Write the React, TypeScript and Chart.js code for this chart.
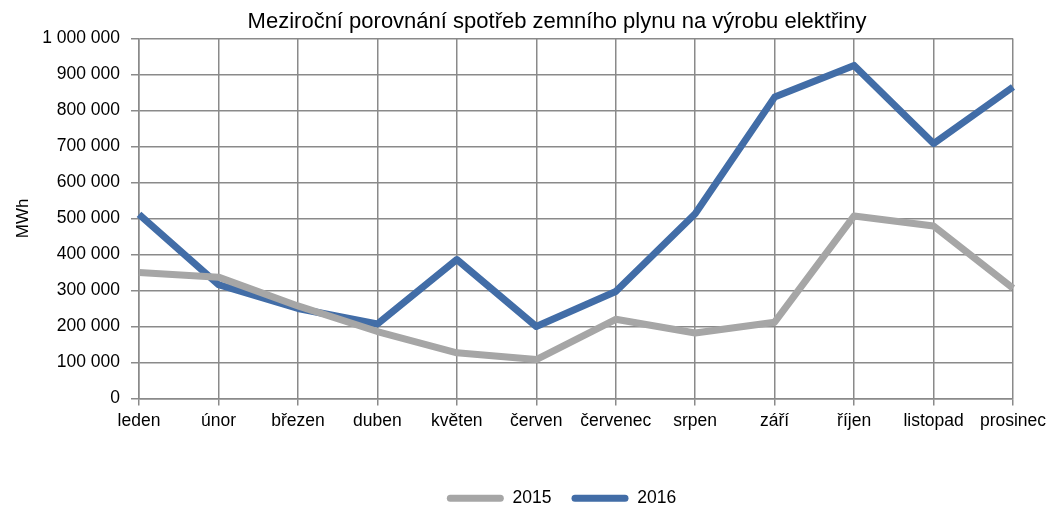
import React, { useEffect, useRef } from "react";
import { Chart, registerables } from "chart.js";

Chart.register(...registerables);

const categories = ["leden", "únor", "březen", "duben", "květen", "červen", "červenec", "srpen", "září", "říjen", "listopad", "prosinec"];
const values2015 = [350000, 337000, 257000, 186000, 127000, 108000, 220000, 182000, 212000, 507000, 479000, 306000];
const values2016 = [511000, 316000, 250000, 207000, 386000, 200000, 297000, 513000, 837000, 925000, 708000, 865000];
const yTicksMax = 1000000;
const yTicksStep = 100000;

const FONT = "'Liberation Sans', Arial, sans-serif";
const GRID = "#8a8a8a";

const shiftPlugin = {
  id: "shiftBoxes",
  afterLayout(chart: any) {
    const t = chart.titleBlock;
    if (t) {
      const dx = 557 - (t.left + t.right) / 2;
      t.left += dx; t.right += dx;
    }
    const l = chart.legend;
    if (l) {
      const dx = 561.5 - (l.left + l.right) / 2;
      l.left += dx; l.right += dx; l.top += 10; l.bottom += 10;
    }
  },
};

export default function App() {
  const ref = useRef<HTMLCanvasElement>(null);
  useEffect(() => {
    document.body.style.margin = "0";
    const chart = new Chart(ref.current!, {
      type: "line",
      data: {
        labels: categories,
        datasets: [
          { label: "2015", data: values2015, borderColor: "#a6a6a6", backgroundColor: "#a6a6a6", borderWidth: 7, pointRadius: 0, tension: 0, borderJoinStyle: "round" as any },
          { label: "2016", data: values2016, borderColor: "#426da7", backgroundColor: "#426da7", borderWidth: 7, pointRadius: 0, tension: 0, borderJoinStyle: "round" as any },
        ],
      },
      options: {
        animation: false,
        responsive: false,
        layout: { padding: { left: 0, right: 0, top: 0, bottom: 0 } },
        plugins: {
          title: {
            display: true,
            text: "Meziroční porovnání spotřeb zemního plynu na výrobu elektřiny",
            color: "#000",
            font: { family: FONT, size: 22, weight: "normal" as any },
            padding: { top: 9, bottom: 3 },
          },
          legend: {
            position: "bottom",
            labels: {
              color: "#000",
              font: { family: FONT, size: 17.5 },
              boxWidth: 57,
              boxHeight: 7,
              padding: 20,
              useBorderRadius: true,
              borderRadius: 3.5,
              generateLabels: (c: any) =>
                Chart.defaults.plugins.legend.labels.generateLabels(c).map((it: any) => ({ ...it, lineWidth: 0 })),
            },
          },
          tooltip: { enabled: false },
        },
        scales: {
          x: {
            offset: false,
            grid: { color: GRID, lineWidth: 1.5, tickLength: 7, drawTicks: true },
            border: { color: GRID, width: 1.5 },
            ticks: { color: "#000", font: { family: FONT, size: 17.5 }, maxRotation: 0, autoSkip: false, padding: 5 },
            afterFit: (axis: any) => { axis.height = 61; axis.paddingRight = 34; },
          },
          y: {
            min: 0,
            max: yTicksMax,
            grid: { color: GRID, lineWidth: 1.5, tickLength: 8 },
            border: { color: GRID, width: 1.5 },
            ticks: {
              stepSize: yTicksStep,
              color: "#000",
              font: { family: FONT, size: 17.5 },
              padding: 11,
              callback: (v: any) => String(v).replace(/\B(?=(\d{3})+(?!\d))/g, " "),
            },
            title: { display: true, text: "MWh", color: "#000", font: { family: FONT, size: 17 }, padding: { top: 13, bottom: 0 } },
            afterFit: (axis: any) => { axis.width = 139; },
          },
        },
      },
      plugins: [shiftPlugin],
    });
    return () => chart.destroy();
  }, []);
  return (
    <div style={{ width: 1047, height: 507, background: "#fff" }}>
      <canvas ref={ref} width={1047} height={507} style={{ display: "block" }} />
    </div>
  );
}
